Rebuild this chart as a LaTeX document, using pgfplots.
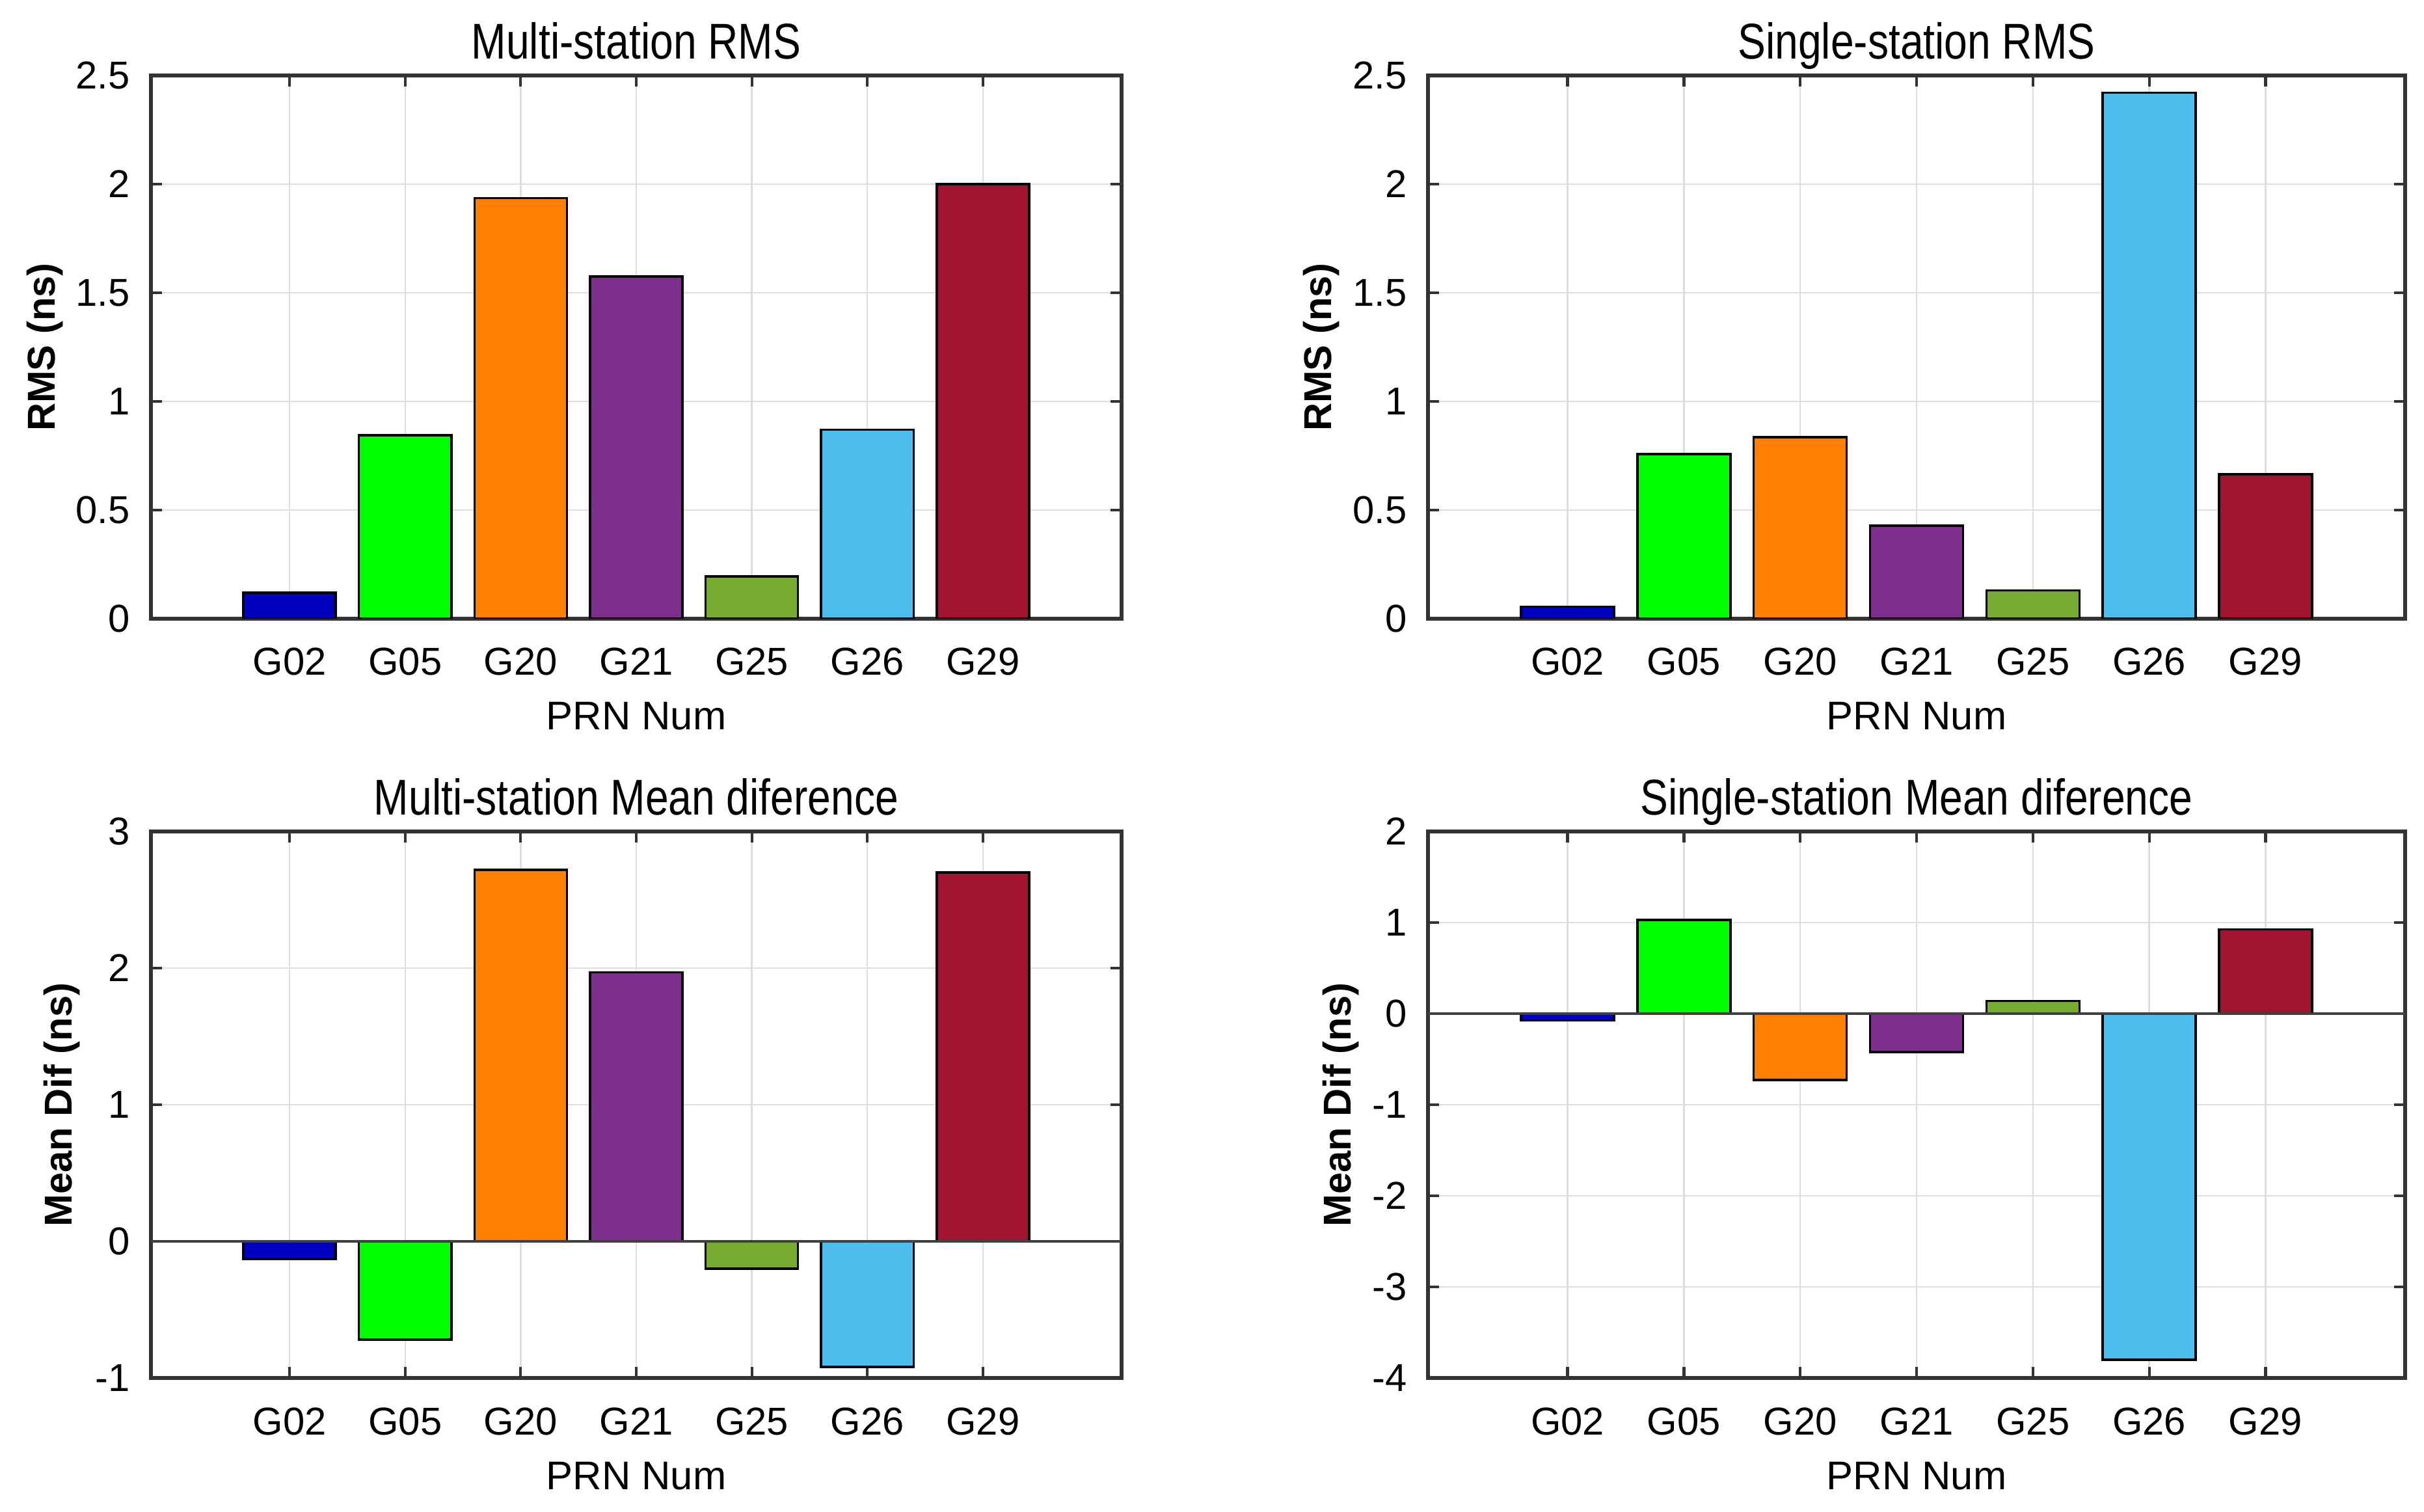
\documentclass[border=0pt]{standalone}
\usepackage{pgfplots}
\pgfplotsset{compat=1.18}
\usepackage{fontspec}
\setmainfont{Liberation Sans}
\newfontfamily\titlefont{Liberation Sans}[FakeStretch=0.83]

\definecolor{cA}{RGB}{0,0,190}
\definecolor{cB}{RGB}{0,255,0}
\definecolor{cC}{RGB}{255,128,0}
\definecolor{cD}{RGB}{126,47,142}
\definecolor{cE}{RGB}{119,172,48}
\definecolor{cF}{RGB}{77,190,238}
\definecolor{cG}{RGB}{162,20,47}

\pgfplotsset{
  matbar/.style={
    scale only axis, anchor=south west,
    xmin=-0.2, xmax=8.2, xtick={1,...,7},
    xticklabels={G02,G05,G20,G21,G25,G26,G29},
    tick align=inside, xtick pos=both, ytick pos=both,
    major tick length=0.17cm,
    grid=major, grid style={color=black!13, line width=0.7pt},
    axis line style={line width=1.5pt, color=black!80},
    every tick/.style={black!80, line width=1.2pt},
    /pgf/number format/assume math mode=true,
    tick label style={font=\fontsize{17}{20}\selectfont},
    xticklabel style={anchor=base, yshift=-0.87cm},
    yticklabel style={anchor=east, inner sep=0pt, xshift=-0.32cm},
    title style={font=\titlefont\fontsize{22}{26}\selectfont, at={(0.5,1)}, anchor=base, yshift=0.04cm},
    xlabel={PRN Num},
    xlabel style={font=\fontsize{17.5}{20}\selectfont, at={(axis description cs:0.5,0)}, anchor=base, yshift=-1.71cm},
    ylabel style={font=\bfseries\fontsize{17}{20}\selectfont, anchor=center},
  },
  bb/.style={ybar, bar width=0.8, bar shift=0pt, draw=black, line width=1pt, fill=#1},
}

\begin{document}
\begin{tikzpicture}
\path[use as bounding box] (0,0) rectangle (37.26,23.23);

% top left
\begin{axis}[matbar, at={(2.32cm,13.72cm)}, width=14.92cm, height=8.35cm,
    ymin=0, ymax=2.5, ytick={0,0.5,...,2.5},
    title={Multi-station RMS}, ylabel={RMS (ns)},
    ylabel style={at={(axis description cs:-0.109,0.5)}}]
  \addplot[bb=cA] coordinates {(1,0.12)};
  \addplot[bb=cB] coordinates {(2,0.845)};
  \addplot[bb=cC] coordinates {(3,1.935)};
  \addplot[bb=cD] coordinates {(4,1.575)};
  \addplot[bb=cE] coordinates {(5,0.195)};
  \addplot[bb=cF] coordinates {(6,0.87)};
  \addplot[bb=cG] coordinates {(7,2.0)};
\end{axis}

% top right
\begin{axis}[matbar, at={(21.95cm,13.72cm)}, width=15.02cm, height=8.35cm,
    ymin=0, ymax=2.5, ytick={0,0.5,...,2.5},
    title={Single-station RMS}, ylabel={RMS (ns)},
    ylabel style={at={(axis description cs:-0.109,0.5)}}]
  \addplot[bb=cA] coordinates {(1,0.055)};
  \addplot[bb=cB] coordinates {(2,0.757)};
  \addplot[bb=cC] coordinates {(3,0.836)};
  \addplot[bb=cD] coordinates {(4,0.428)};
  \addplot[bb=cE] coordinates {(5,0.13)};
  \addplot[bb=cF] coordinates {(6,2.42)};
  \addplot[bb=cG] coordinates {(7,0.665)};
\end{axis}

% bottom left
\begin{axis}[matbar, at={(2.32cm,2.05cm)}, width=14.92cm, height=8.40cm,
    ymin=-1, ymax=3, ytick={-1,0,...,3},
    title={Multi-station Mean diference}, ylabel={Mean Dif (ns)},
    ylabel style={at={(axis description cs:-0.092,0.5)}}]
  \addplot[bb=cA] coordinates {(1,-0.13)};
  \addplot[bb=cB] coordinates {(2,-0.72)};
  \addplot[bb=cC] coordinates {(3,2.72)};
  \addplot[bb=cD] coordinates {(4,1.97)};
  \addplot[bb=cE] coordinates {(5,-0.2)};
  \addplot[bb=cF] coordinates {(6,-0.92)};
  \addplot[bb=cG] coordinates {(7,2.7)};
  \addplot[black!75, line width=1.2pt] coordinates {(-0.2,0) (8.2,0)};
\end{axis}

% bottom right
\begin{axis}[matbar, at={(21.95cm,2.05cm)}, width=15.02cm, height=8.40cm,
    ymin=-4, ymax=2, ytick={-4,-3,...,2},
    title={Single-station Mean diference}, ylabel={Mean Dif (ns)},
    ylabel style={at={(axis description cs:-0.089,0.5)}}]
  \addplot[bb=cA] coordinates {(1,-0.075)};
  \addplot[bb=cB] coordinates {(2,1.03)};
  \addplot[bb=cC] coordinates {(3,-0.73)};
  \addplot[bb=cD] coordinates {(4,-0.42)};
  \addplot[bb=cE] coordinates {(5,0.14)};
  \addplot[bb=cF] coordinates {(6,-3.8)};
  \addplot[bb=cG] coordinates {(7,0.925)};
  \addplot[black!75, line width=1.2pt] coordinates {(-0.2,0) (8.2,0)};
\end{axis}
\end{tikzpicture}
\end{document}
